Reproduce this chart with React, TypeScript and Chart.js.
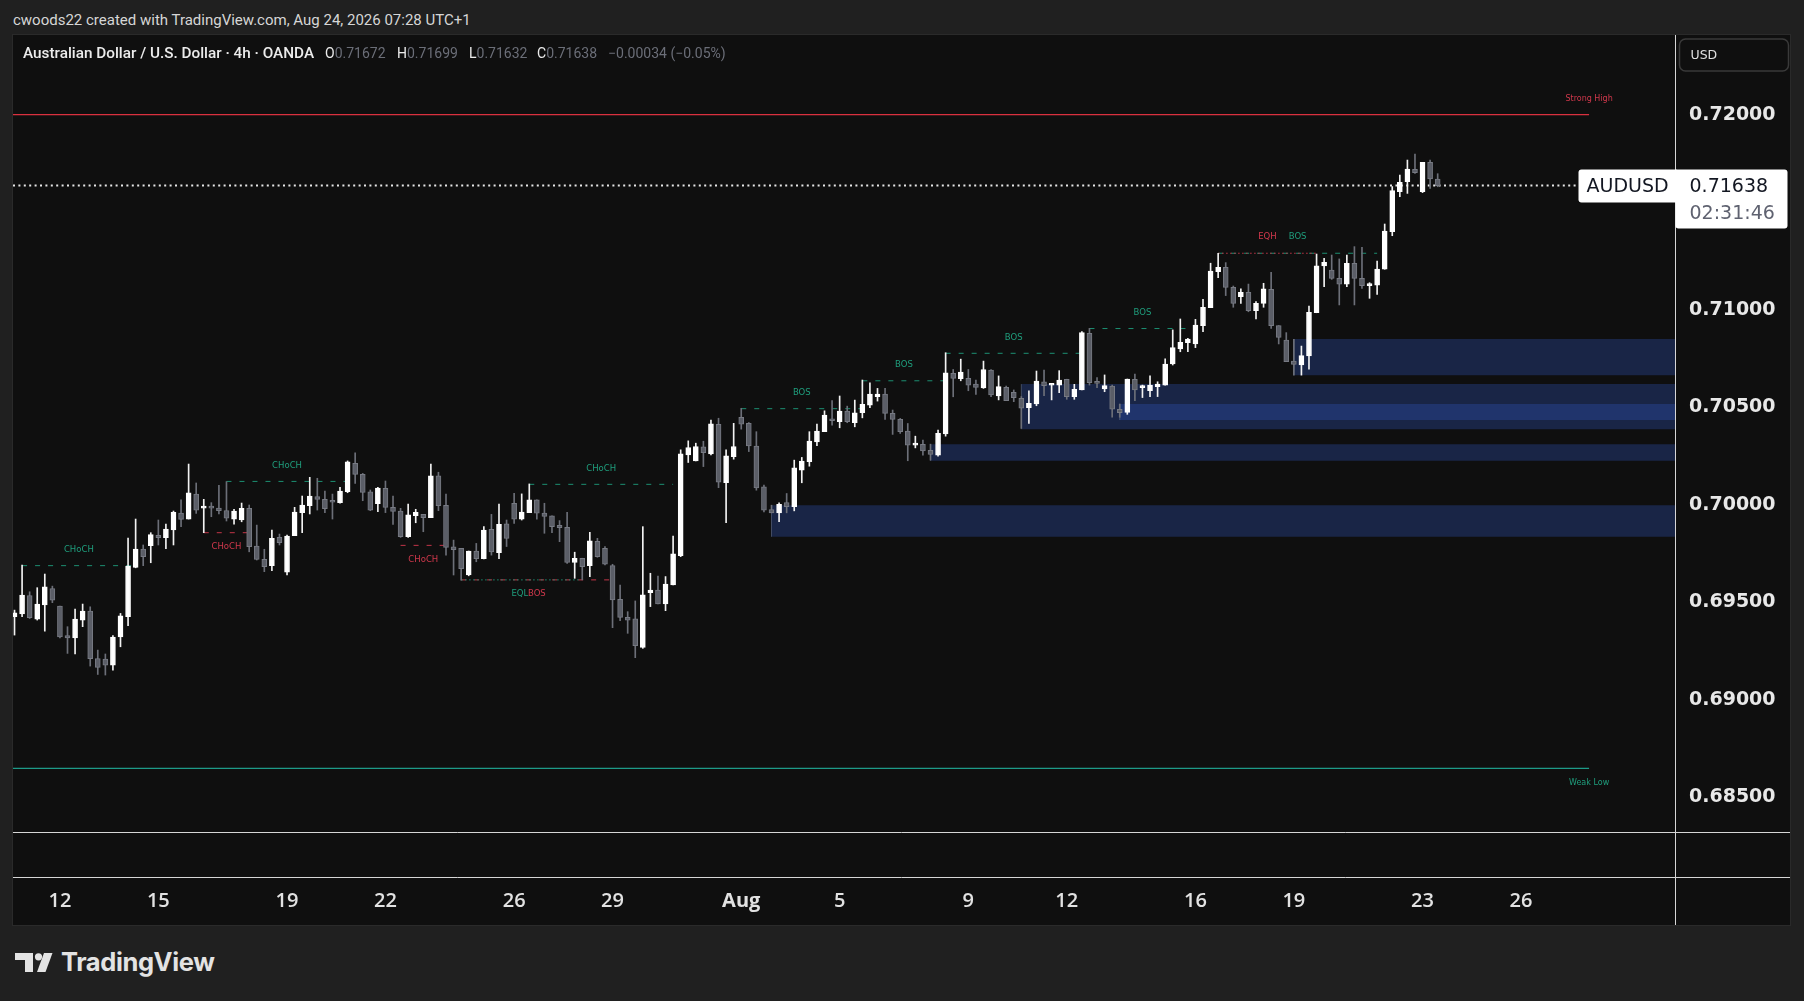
import React, { useEffect, useRef } from 'react';
import { Chart, registerables } from 'chart.js';

Chart.register(...registerables);

// ---- OHLC data (AUDUSD, 4h, OANDA) ----
const OPEN = [
  0.69427, 0.69441, 0.69536, 0.69415, 0.69487, 0.69572, 0.69482, 0.69331, 0.69319, 0.69410,
  0.69456, 0.69213, 0.69210, 0.69179, 0.69324, 0.69427, 0.69680, 0.69774, 0.69791, 0.69844,
  0.69832, 0.69872, 0.69959, 0.69928, 0.70056, 0.69984, 0.69988, 0.69984, 0.69972, 0.69928,
  0.69923, 0.69983, 0.69790, 0.69721, 0.69689, 0.69834, 0.69656, 0.69843, 0.69961, 0.69997,
  0.70043, 0.70029, 0.70020, 0.70012, 0.70068, 0.70214, 0.70157, 0.70068, 0.70007, 0.70085,
  0.69988, 0.69969, 0.69838, 0.69945, 0.69952, 0.69935, 0.70149, 0.69998, 0.69785, 0.69778,
  0.69641, 0.69764, 0.69725, 0.69875, 0.69755, 0.69903, 0.70009, 0.69927, 0.69961, 0.70026,
  0.69958, 0.69944, 0.69896, 0.69886, 0.69705, 0.69727, 0.69689, 0.69814, 0.69778, 0.69689,
  0.69516, 0.69424, 0.69416, 0.69270, 0.69551, 0.69564, 0.69493, 0.69590, 0.69740, 0.70257,
  0.70226, 0.70298, 0.70262, 0.70414, 0.70115, 0.70248, 0.70450, 0.70419, 0.70302, 0.70093,
  0.69977, 0.69960, 0.70013, 0.69991, 0.70179, 0.70222, 0.70324, 0.70376, 0.70435, 0.70427,
  0.70482, 0.70422, 0.70473, 0.70512, 0.70555, 0.70569, 0.70470, 0.70439, 0.70379, 0.70307,
  0.70311, 0.70281, 0.70256, 0.70364, 0.70675, 0.70648, 0.70649, 0.70620, 0.70601, 0.70692,
  0.70559, 0.70603, 0.70578, 0.70547, 0.70499, 0.70518, 0.70632, 0.70614, 0.70615, 0.70645,
  0.70556, 0.70590, 0.70881, 0.70627, 0.70595, 0.70610, 0.70491, 0.70475, 0.70645, 0.70602,
  0.70586, 0.70607, 0.70615, 0.70723, 0.70800, 0.70833, 0.70826, 0.70920, 0.71012, 0.71197,
  0.71219, 0.71116, 0.71068, 0.71091, 0.70996, 0.71034, 0.71106, 0.70920, 0.70846, 0.70738,
  0.70718, 0.70764, 0.70986, 0.71226, 0.71205, 0.71162, 0.71133, 0.71239, 0.71162, 0.71125,
  0.71128, 0.71209, 0.71402, 0.71607, 0.71658, 0.71721, 0.71607, 0.71757, 0.71672,
];
const HIGH = [
  0.69461, 0.69692, 0.69555, 0.69576, 0.69646, 0.69584, 0.69482, 0.69376, 0.69466, 0.69492,
  0.69478, 0.69256, 0.69236, 0.69330, 0.69444, 0.69831, 0.69928, 0.69795, 0.69858, 0.69923,
  0.69902, 0.69969, 0.70026, 0.70210, 0.70113, 0.70029, 0.70012, 0.70101, 0.70120, 0.69978,
  0.70010, 0.70000, 0.69897, 0.69773, 0.69872, 0.69851, 0.69846, 0.69988, 0.70046, 0.70142,
  0.70137, 0.70072, 0.70056, 0.70091, 0.70226, 0.70267, 0.70162, 0.70077, 0.70091, 0.70123,
  0.70046, 0.69983, 0.70005, 0.69978, 0.69952, 0.70210, 0.70168, 0.70056, 0.69820, 0.69778,
  0.69764, 0.69803, 0.69889, 0.69952, 0.70005, 0.69923, 0.70060, 0.70057, 0.70108, 0.70026,
  0.70009, 0.69944, 0.69920, 0.69963, 0.69758, 0.69727, 0.69860, 0.69829, 0.69787, 0.69696,
  0.69590, 0.69453, 0.69508, 0.69889, 0.69650, 0.69636, 0.69633, 0.69841, 0.70283, 0.70329,
  0.70317, 0.70327, 0.70436, 0.70445, 0.70283, 0.70419, 0.70496, 0.70423, 0.70376, 0.70102,
  0.69999, 0.70011, 0.70059, 0.70230, 0.70244, 0.70376, 0.70415, 0.70483, 0.70535, 0.70559,
  0.70507, 0.70538, 0.70641, 0.70627, 0.70598, 0.70598, 0.70487, 0.70444, 0.70418, 0.70353,
  0.70333, 0.70312, 0.70384, 0.70781, 0.70695, 0.70748, 0.70695, 0.70641, 0.70738, 0.70695,
  0.70662, 0.70610, 0.70590, 0.70556, 0.70585, 0.70687, 0.70692, 0.70624, 0.70689, 0.70645,
  0.70619, 0.70889, 0.70906, 0.70653, 0.70667, 0.70615, 0.70518, 0.70646, 0.70672, 0.70615,
  0.70662, 0.70632, 0.70749, 0.70898, 0.70954, 0.70855, 0.70952, 0.71055, 0.71240, 0.71291,
  0.71243, 0.71123, 0.71108, 0.71133, 0.71043, 0.71137, 0.71193, 0.70920, 0.70884, 0.70850,
  0.70815, 0.71020, 0.71287, 0.71265, 0.71282, 0.71262, 0.71282, 0.71325, 0.71321, 0.71140,
  0.71251, 0.71441, 0.71633, 0.71692, 0.71769, 0.71800, 0.71757, 0.71769, 0.71699,
];
const LOW = [
  0.69333, 0.69427, 0.69418, 0.69410, 0.69353, 0.69499, 0.69319, 0.69239, 0.69236, 0.69376,
  0.69174, 0.69131, 0.69128, 0.69153, 0.69273, 0.69381, 0.69678, 0.69689, 0.69704, 0.69795,
  0.69776, 0.69795, 0.69889, 0.69928, 0.69957, 0.69858, 0.69940, 0.69954, 0.69918, 0.69902,
  0.69914, 0.69760, 0.69718, 0.69658, 0.69663, 0.69795, 0.69641, 0.69843, 0.69858, 0.69954,
  0.69974, 0.69961, 0.69928, 0.70009, 0.70063, 0.70111, 0.70022, 0.69971, 0.69966, 0.69961,
  0.69901, 0.69834, 0.69834, 0.69909, 0.69863, 0.69935, 0.69971, 0.69743, 0.69641, 0.69615,
  0.69637, 0.69709, 0.69723, 0.69743, 0.69725, 0.69787, 0.69906, 0.69923, 0.69961, 0.69927,
  0.69855, 0.69858, 0.69812, 0.69701, 0.69624, 0.69616, 0.69633, 0.69732, 0.69693, 0.69371,
  0.69407, 0.69342, 0.69217, 0.69265, 0.69479, 0.69493, 0.69458, 0.69590, 0.69735, 0.70218,
  0.70226, 0.70197, 0.70257, 0.70089, 0.69910, 0.70235, 0.70389, 0.70274, 0.70076, 0.69965,
  0.69960, 0.69914, 0.69960, 0.69970, 0.70114, 0.70199, 0.70304, 0.70376, 0.70410, 0.70396,
  0.70422, 0.70401, 0.70447, 0.70499, 0.70533, 0.70439, 0.70362, 0.70367, 0.70227, 0.70293,
  0.70256, 0.70230, 0.70251, 0.70353, 0.70555, 0.70637, 0.70586, 0.70567, 0.70598, 0.70555,
  0.70539, 0.70535, 0.70530, 0.70393, 0.70419, 0.70509, 0.70561, 0.70539, 0.70576, 0.70542,
  0.70542, 0.70590, 0.70615, 0.70602, 0.70581, 0.70450, 0.70450, 0.70465, 0.70535, 0.70551,
  0.70556, 0.70556, 0.70615, 0.70718, 0.70786, 0.70786, 0.70807, 0.70889, 0.71012, 0.71166,
  0.71074, 0.71014, 0.71034, 0.70991, 0.70954, 0.71014, 0.70906, 0.70826, 0.70735, 0.70666,
  0.70666, 0.70696, 0.70986, 0.71120, 0.71157, 0.71026, 0.71120, 0.71026, 0.71111, 0.71060,
  0.71080, 0.71209, 0.71381, 0.71581, 0.71598, 0.71701, 0.71602, 0.71624, 0.71632,
];
const CLOSE = [
  0.69447, 0.69538, 0.69422, 0.69492, 0.69581, 0.69512, 0.69324, 0.69319, 0.69415, 0.69456,
  0.69212, 0.69167, 0.69179, 0.69323, 0.69432, 0.69687, 0.69774, 0.69735, 0.69848, 0.69832,
  0.69877, 0.69962, 0.69926, 0.70062, 0.69974, 0.69988, 0.69984, 0.69971, 0.69932, 0.69969,
  0.69983, 0.69786, 0.69721, 0.69684, 0.69829, 0.69807, 0.69841, 0.69964, 0.70000, 0.70046,
  0.70029, 0.69981, 0.70014, 0.70072, 0.70222, 0.70157, 0.70065, 0.69974, 0.70087, 0.69988,
  0.69967, 0.69838, 0.69949, 0.69962, 0.69935, 0.70149, 0.69997, 0.69783, 0.69771, 0.69673,
  0.69764, 0.69725, 0.69872, 0.69759, 0.69901, 0.69829, 0.69927, 0.69964, 0.70026, 0.69958,
  0.69941, 0.69889, 0.69884, 0.69705, 0.69727, 0.69684, 0.69816, 0.69735, 0.69696, 0.69513,
  0.69424, 0.69410, 0.69279, 0.69539, 0.69564, 0.69493, 0.69595, 0.69749, 0.70262, 0.70295,
  0.70300, 0.70269, 0.70416, 0.70117, 0.70252, 0.70300, 0.70414, 0.70303, 0.70088, 0.69974,
  0.69960, 0.70004, 0.69991, 0.70191, 0.70225, 0.70328, 0.70379, 0.70461, 0.70432, 0.70482,
  0.70427, 0.70473, 0.70516, 0.70569, 0.70569, 0.70470, 0.70439, 0.70376, 0.70307, 0.70316,
  0.70278, 0.70259, 0.70367, 0.70678, 0.70649, 0.70682, 0.70615, 0.70603, 0.70695, 0.70564,
  0.70607, 0.70535, 0.70551, 0.70496, 0.70521, 0.70636, 0.70612, 0.70617, 0.70641, 0.70556,
  0.70593, 0.70884, 0.70627, 0.70624, 0.70612, 0.70491, 0.70473, 0.70646, 0.70590, 0.70607,
  0.70615, 0.70620, 0.70723, 0.70807, 0.70834, 0.70851, 0.70923, 0.71014, 0.71200, 0.71219,
  0.71116, 0.71034, 0.71091, 0.70996, 0.71034, 0.71108, 0.70920, 0.70860, 0.70735, 0.70721,
  0.70766, 0.70988, 0.71226, 0.71244, 0.71162, 0.71133, 0.71239, 0.71162, 0.71125, 0.71128,
  0.71210, 0.71405, 0.71612, 0.71655, 0.71723, 0.71704, 0.71757, 0.71672, 0.71638,
];

// ---- time axis ----
const TICK_INDEX = [6, 19, 36, 49, 66, 79, 96, 109, 126, 139, 156, 169, 186, 199];
const TICK_LABELS = ['12', '15', '19', '22', '26', '29', 'Aug', '5', '9', '12', '16', '19', '23', '26'];
const X_MIN = -0.2;
const X_MAX = 219.35;

// ---- price axis ----
const Y_MIN = 0.683231;
const Y_MAX = 0.724103;
const Y_STEP = 0.005;

// ---- market structure (BOS / CHoCH / EQL / EQH) ----
const STRUCT_FROM = [1, 25, 28, 51, 68, 59, 59, 96, 112, 123, 142, 159, 159];
const STRUCT_TO = [16, 31, 44, 57, 87, 74.5, 79, 112, 123, 141, 156, 172, 180];
const STRUCT_PRICE = [0.69689, 0.69858, 0.70121, 0.69793, 0.70106, 0.69616, 0.69616, 0.70494, 0.70637, 0.70778, 0.70905, 0.71291, 0.71291];
const STRUCT_KIND = ['bull', 'bear', 'bull', 'bear', 'bull', 'eql', 'bear', 'bull', 'bull', 'bull', 'bull', 'eqh', 'bull'];
const STRUCT_TEXT = ['CHoCH', 'CHoCH', 'CHoCH', 'CHoCH', 'CHoCH', 'EQL', 'BOS', 'BOS', 'BOS', 'BOS', 'BOS', 'EQH', 'BOS'];

// ---- order-block zones ----
const ZONE_FROM = [100, 121, 133, 146, 169];
const ZONE_TOP = [0.69999, 0.70312, 0.70620, 0.70518, 0.70851];
const ZONE_BOTTOM = [0.69837, 0.70227, 0.70389, 0.70436, 0.70666];

// ---- strong high / weak low ----
const STRONG_HIGH = 0.72002;
const WEAK_LOW = 0.68649;
const LEVEL_END = 208;
const LAST_PRICE = CLOSE[CLOSE.length - 1];

const GREEN = '#1f9e7d';
const RED = '#d0384c';
const GREEN_LINE = '#1c8f72';
const RED_LINE = '#c23548';

const overlayPlugin = {
  id: 'tvOverlay',
  afterDatasetsDraw(chart: any) {
    const { ctx, scales } = chart;
    const x = scales.x;
    const y = scales.y;
    ctx.save();
    ctx.font = '8.5px "DejaVu Sans"';
    ctx.textAlign = 'center';
    ctx.textBaseline = 'middle';
    STRUCT_TEXT.forEach((t, i) => {
      const kind = STRUCT_KIND[i];
      const mid = (STRUCT_FROM[i] + STRUCT_TO[i]) / 2;
      const above = kind === 'bull' || kind === 'eqh';
      ctx.fillStyle = kind === 'bull' || kind === 'eql' ? GREEN : RED;
      const px = x.getPixelForValue(mid);
      const py = y.getPixelForValue(STRUCT_PRICE[i]) + (above ? -16 : 14);
      ctx.fillText(t, px, py);
    });
    ctx.font = '8px "DejaVu Sans"';
    ctx.fillStyle = RED;
    ctx.fillText('Strong High', x.getPixelForValue(LEVEL_END), y.getPixelForValue(STRONG_HIGH) - 16);
    ctx.fillStyle = GREEN;
    ctx.fillText('Weak Low', x.getPixelForValue(LEVEL_END), y.getPixelForValue(WEAK_LOW) + 14);
    ctx.restore();
  },
  afterDraw(chart: any) {
    const { ctx, chartArea, scales } = chart;
    const W = chart.width;
    const H = chart.height;
    ctx.save();
    ctx.strokeStyle = '#d6d6d6';
    ctx.lineWidth = 1;
    const rx = Math.round(chartArea.right) + 0.5;
    const by = Math.round(chartArea.bottom) + 0.5;
    ctx.beginPath();
    ctx.moveTo(rx, 0);
    ctx.lineTo(rx, H);
    ctx.moveTo(0, by);
    ctx.lineTo(W, by);
    ctx.moveTo(0, by + 45);
    ctx.lineTo(W, by + 45);
    ctx.stroke();

    // USD box
    ctx.strokeStyle = '#3a3a3a';
    ctx.lineWidth = 1.5;
    ctx.beginPath();
    (ctx as any).roundRect(rx + 4, 4, 109, 32, 6);
    ctx.stroke();
    ctx.fillStyle = '#e0e0e0';
    ctx.font = '12.5px "DejaVu Sans"';
    ctx.textAlign = 'left';
    ctx.textBaseline = 'middle';
    ctx.fillText('USD', rx + 15, 21);

    // last price labels
    const py = scales.y.getPixelForValue(LAST_PRICE);
    ctx.fillStyle = '#ffffff';
    ctx.beginPath();
    (ctx as any).roundRect(rx - 97, py - 16, 98, 33, [3, 0, 0, 3]);
    ctx.fill();
    ctx.beginPath();
    (ctx as any).roundRect(rx, py - 16, 112, 59, [0, 3, 3, 3]);
    ctx.fill();
    ctx.font = '19px "DejaVu Sans"';
    ctx.fillStyle = '#131722';
    ctx.fillText('AUDUSD', rx - 89, py + 1.5);
    ctx.fillText(LAST_PRICE.toFixed(5), rx + 14, py + 1.5);
    ctx.fillStyle = '#5f6270';
    ctx.fillText('02:31:46', rx + 14, py + 28);
    ctx.restore();
  },
};

function buildDatasets() {
  const idx = OPEN.map((_, i) => i);
  const isBull = (i: number) => CLOSE[i] >= OPEN[i];
  const ds: any[] = [];

  // zones (top + bottom filled) with a thin left edge
  ZONE_FROM.forEach((s, k) => {
    ds.push({
      type: 'line', order: 20,
      data: [{ x: s, y: ZONE_TOP[k] }, { x: X_MAX, y: ZONE_TOP[k] }],
      borderWidth: 0, pointRadius: 0, fill: false, borderColor: 'rgba(0,0,0,0)',
    });
    ds.push({
      type: 'line', order: 20,
      data: [{ x: s, y: ZONE_BOTTOM[k] }, { x: X_MAX, y: ZONE_BOTTOM[k] }],
      borderWidth: 0, pointRadius: 0, fill: '-1', borderColor: 'rgba(0,0,0,0)',
      backgroundColor: 'rgba(49, 89, 200, 0.30)',
    });
    ds.push({
      type: 'line', order: 19,
      data: [{ x: s, y: ZONE_BOTTOM[k] }, { x: s, y: ZONE_TOP[k] }],
      borderWidth: 1, pointRadius: 0, fill: false, borderColor: 'rgba(110, 125, 160, 0.55)',
    });
  });

  // strong high / weak low
  ds.push({
    type: 'line', order: 5, data: [{ x: X_MIN, y: STRONG_HIGH }, { x: LEVEL_END, y: STRONG_HIGH }],
    borderColor: '#d9303f', borderWidth: 1.3, pointRadius: 0, fill: false,
  });
  ds.push({
    type: 'line', order: 5, data: [{ x: X_MIN, y: WEAK_LOW }, { x: LEVEL_END, y: WEAK_LOW }],
    borderColor: '#1d9a88', borderWidth: 1.2, pointRadius: 0, fill: false,
  });

  // structure lines
  STRUCT_FROM.forEach((s, i) => {
    const kind = STRUCT_KIND[i];
    const dotted = kind === 'eql' || kind === 'eqh';
    ds.push({
      type: 'line', order: 5,
      data: [{ x: s, y: STRUCT_PRICE[i] }, { x: STRUCT_TO[i], y: STRUCT_PRICE[i] }],
      borderColor: kind === 'bull' || kind === 'eql' ? GREEN_LINE : RED_LINE,
      borderWidth: 1, borderDash: dotted ? [1.5, 2.5] : [5, 8], pointRadius: 0, fill: false,
    });
  });

  // last price dotted line
  ds.push({
    type: 'line', order: 4, data: [{ x: X_MIN, y: LAST_PRICE }, { x: X_MAX, y: LAST_PRICE }],
    borderColor: '#e6e6e6', borderWidth: 2, borderDash: [2, 3.4], pointRadius: 0, fill: false,
  });

  // wicks
  ds.push({
    type: 'bar', order: 2,
    data: idx.map((i) => ({ x: i, y: [LOW[i], HIGH[i]] })),
    backgroundColor: idx.map((i) => (isBull(i) ? '#f2f2f2' : '#6c6f78')),
    barThickness: 1, borderWidth: 0,
  });
  // bodies
  ds.push({
    type: 'bar', order: 1,
    data: idx.map((i) => ({ x: i, y: [Math.min(OPEN[i], CLOSE[i]), Math.max(OPEN[i], CLOSE[i])] })),
    backgroundColor: idx.map((i) => (isBull(i) ? '#ffffff' : '#5b5e67')),
    borderColor: idx.map((i) => (isBull(i) ? '#ffffff' : '#777a83')),
    borderWidth: 1, borderSkipped: false, barThickness: 5, minBarLength: 2,
  });
  return ds;
}

function ChartCanvas() {
  const ref = useRef<HTMLCanvasElement | null>(null);
  useEffect(() => {
    if (!ref.current) return;
    const chart = new Chart(ref.current, {
      type: 'bar',
      data: { datasets: buildDatasets() },
      plugins: [overlayPlugin],
      options: {
        responsive: false,
        animation: false,
        events: [],
        layout: { padding: 0, autoPadding: false },
        plugins: { legend: { display: false }, tooltip: { enabled: false }, title: { display: false } },
        datasets: { bar: { grouped: false } },
        scales: {
          x: {
            type: 'linear', min: X_MIN, max: X_MAX, offset: false,
            grid: { display: false, drawTicks: false }, border: { display: false },
            afterBuildTicks: (s: any) => { s.ticks = TICK_INDEX.map((v) => ({ value: v })); },
            afterFit: (s: any) => { s.height = 93; s.paddingLeft = 0; s.paddingRight = 0; s.paddingTop = 0; s.paddingBottom = 0; },
            ticks: {
              autoSkip: false, maxRotation: 0, minRotation: 0, padding: 57, color: '#e2e2e2',
              font: (c: any) => ({ family: 'Open Sans', size: 20, weight: TICK_LABELS[c.index] === 'Aug' ? 'bold' : '600' }),
              callback: (v: any) => { const k = TICK_INDEX.indexOf(Number(v)); return k >= 0 ? TICK_LABELS[k] : ''; },
            },
          },
          y: {
            type: 'linear', position: 'right', min: Y_MIN, max: Y_MAX,
            grid: { display: false, drawTicks: false }, border: { display: false },
            afterFit: (s: any) => { s.width = 115; s.paddingLeft = 0; s.paddingRight = 0; s.paddingTop = 0; s.paddingBottom = 0; },
            ticks: {
              stepSize: Y_STEP, includeBounds: false, padding: 14, color: '#e8e8e8',
              font: { family: 'DejaVu Sans', size: 19, weight: 'bold' },
              callback: (v: any) => Number(v).toFixed(5),
            },
          },
        },
      } as any,
    } as any);
    return () => chart.destroy();
  }, []);
  return <canvas ref={ref} width={1777} height={890} style={{ position: 'absolute', left: 0, top: 0, width: 1777, height: 890 }} />;
}

const gray = '#6b6e78';

export default function App() {
  const o = OPEN[OPEN.length - 1];
  const h = HIGH[HIGH.length - 1];
  const l = LOW[LOW.length - 1];
  const c = CLOSE[CLOSE.length - 1];
  const prev = CLOSE[CLOSE.length - 2];
  const chg = c - prev;
  const pct = (chg / prev) * 100;
  const sign = (v: number) => (v < 0 ? '\u2212' : '+');
  const titleStyle: React.CSSProperties = { position: 'absolute', top: 44, font: '14px Roboto', color: '#ececec', whiteSpace: 'nowrap', lineHeight: '18px' };
  return (
    <div style={{ position: 'fixed', left: 0, top: 0, width: 1804, height: 1001, background: '#202020', overflow: 'hidden', fontFamily: 'Roboto' }}>
      <div style={{ position: 'absolute', left: 13, top: 10, font: '15px Roboto', color: '#d6d6d6', whiteSpace: 'nowrap', lineHeight: '20px' }}>
        cwoods22 created with TradingView.com, Aug 24, 2026 07:28 UTC+1
      </div>
      <div style={{ position: 'absolute', left: 13, top: 35, width: 1777, height: 890, background: '#0f0f0f', boxShadow: '0 0 0 1px #2a2a2a' }}>
        <ChartCanvas />
      </div>
      <div style={{ ...titleStyle, left: 23, font: '500 15.3px Roboto', top: 43.5 }}>Australian Dollar / U.S. Dollar · 4h · OANDA</div>
      <div style={{ ...titleStyle, left: 325 }}>O<span style={{ color: gray }}>{o.toFixed(5)}</span></div>
      <div style={{ ...titleStyle, left: 397 }}>H<span style={{ color: gray }}>{h.toFixed(5)}</span></div>
      <div style={{ ...titleStyle, left: 469 }}>L<span style={{ color: gray }}>{l.toFixed(5)}</span></div>
      <div style={{ ...titleStyle, left: 537 }}>C<span style={{ color: gray }}>{c.toFixed(5)}</span></div>
      <div style={{ ...titleStyle, left: 608, color: gray }}>
        {sign(chg)}{Math.abs(chg).toFixed(5)} ({sign(pct)}{Math.abs(pct).toFixed(2)}%)
      </div>
      <svg width="38" height="20" viewBox="0 0 38 20" style={{ position: 'absolute', left: 15, top: 953 }}>
        <path d="M0 0H18V19H10V7H0Z" fill="#e3e3e3" />
        <circle cx="23.5" cy="3.8" r="3.6" fill="#e3e3e3" />
        <path d="M29 0H37.5L30.5 19H22Z" fill="#e3e3e3" />
      </svg>
      <div style={{ position: 'absolute', left: 61, top: 947, font: '700 25.5px Inter', color: '#e3e3e3', letterSpacing: -0.4, lineHeight: '30px', whiteSpace: 'nowrap' }}>
        TradingView
      </div>
    </div>
  );
}
